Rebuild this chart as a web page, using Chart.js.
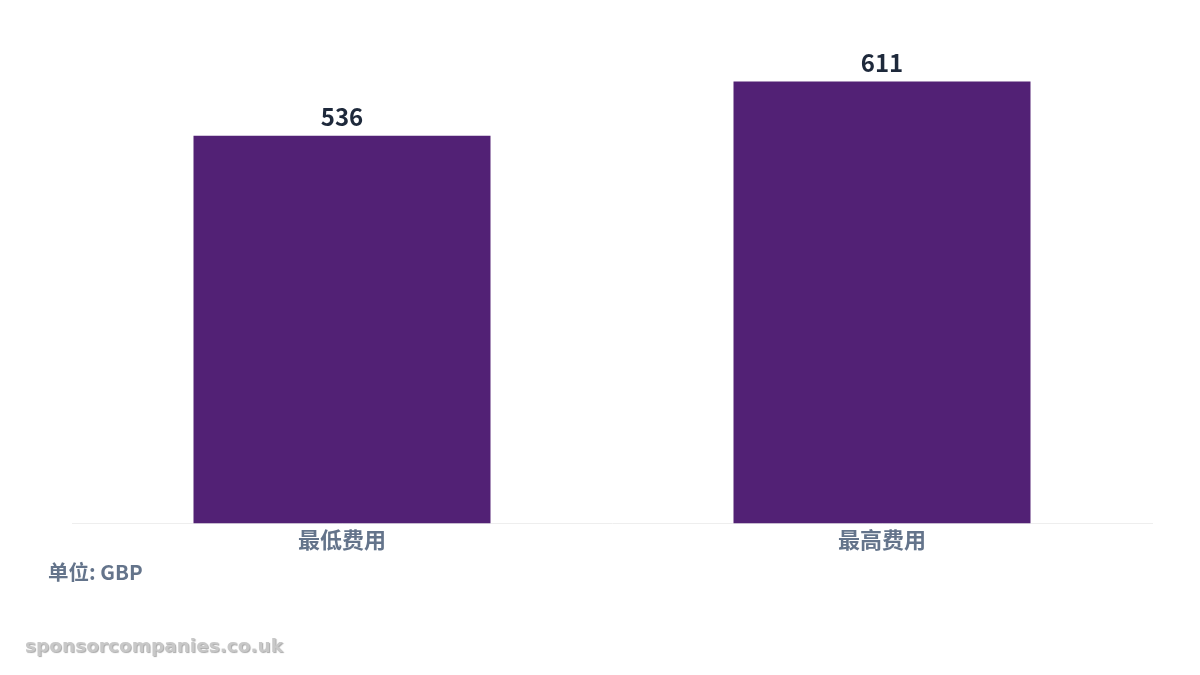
<!DOCTYPE html>
<html>
<head>
<meta charset="utf-8">
<script src="https://cdn.jsdelivr.net/npm/chart.js@4"></script>
<style>
  body { margin: 0; background: #fff; }
  #wrap { position: relative; width: 1200px; height: 675px; }
  .note { position: absolute; font-family: "Noto Sans CJK SC", sans-serif; font-weight: bold; }
  #unit { left: 48px; top: 556px; font-size: 20.5px; color: #64748b; }
  #mark { left: 25px; top: 635px; font-family: "DejaVu Sans", sans-serif; font-size: 18.5px; color: #c8c8c8; text-shadow: 1px 1px 1px #aaa; }
</style>
</head>
<body>
<div id="wrap">
  <canvas id="chart" width="1200" height="675"></canvas>
  <div id="unit" class="note">单位: GBP</div>
  <div id="mark" class="note">sponsorcompanies.co.uk</div>
</div>
<script>
const categories = ['最低费用', '最高费用'];
const fees = [536, 611];

// value labels above each bar
const barLabels = {
  id: 'barLabels',
  afterDatasetsDraw(chart) {
    const ctx = chart.ctx;
    ctx.save();
    ctx.font = 'bold 24px "Noto Sans CJK SC"';
    ctx.fillStyle = '#1e293b';
    ctx.textAlign = 'center';
    ctx.textBaseline = 'bottom';
    chart.getDatasetMeta(0).data.forEach((bar, i) => {
      ctx.fillText(fees[i], bar.x, bar.y - 7);
    });
    ctx.restore();
  }
};

const ctx = document.getElementById('chart').getContext('2d');
new Chart(ctx, {
  type: 'bar',
  data: {
    labels: categories,
    datasets: [{
      data: fees,
      backgroundColor: '#522175',
      barPercentage: 0.55,
      categoryPercentage: 1
    }]
  },
  options: {
    responsive: false,
    animation: false,
    layout: { padding: { left: 72, right: 48, top: 17, bottom: 119 } },
    plugins: {
      legend: { display: false },
      tooltip: { enabled: false }
    },
    scales: {
      y: { display: false, min: 0, max: 700 },
      x: {
        grid: { display: false, drawTicks: false },
        border: { display: true, color: '#eeeeee', width: 1 },
        ticks: {
          padding: 3,
          color: '#64748b',
          font: { family: '"Noto Sans CJK SC"', size: 22, weight: 'bold' }
        }
      }
    }
  },
  plugins: [barLabels]
});
</script>
</body>
</html>
